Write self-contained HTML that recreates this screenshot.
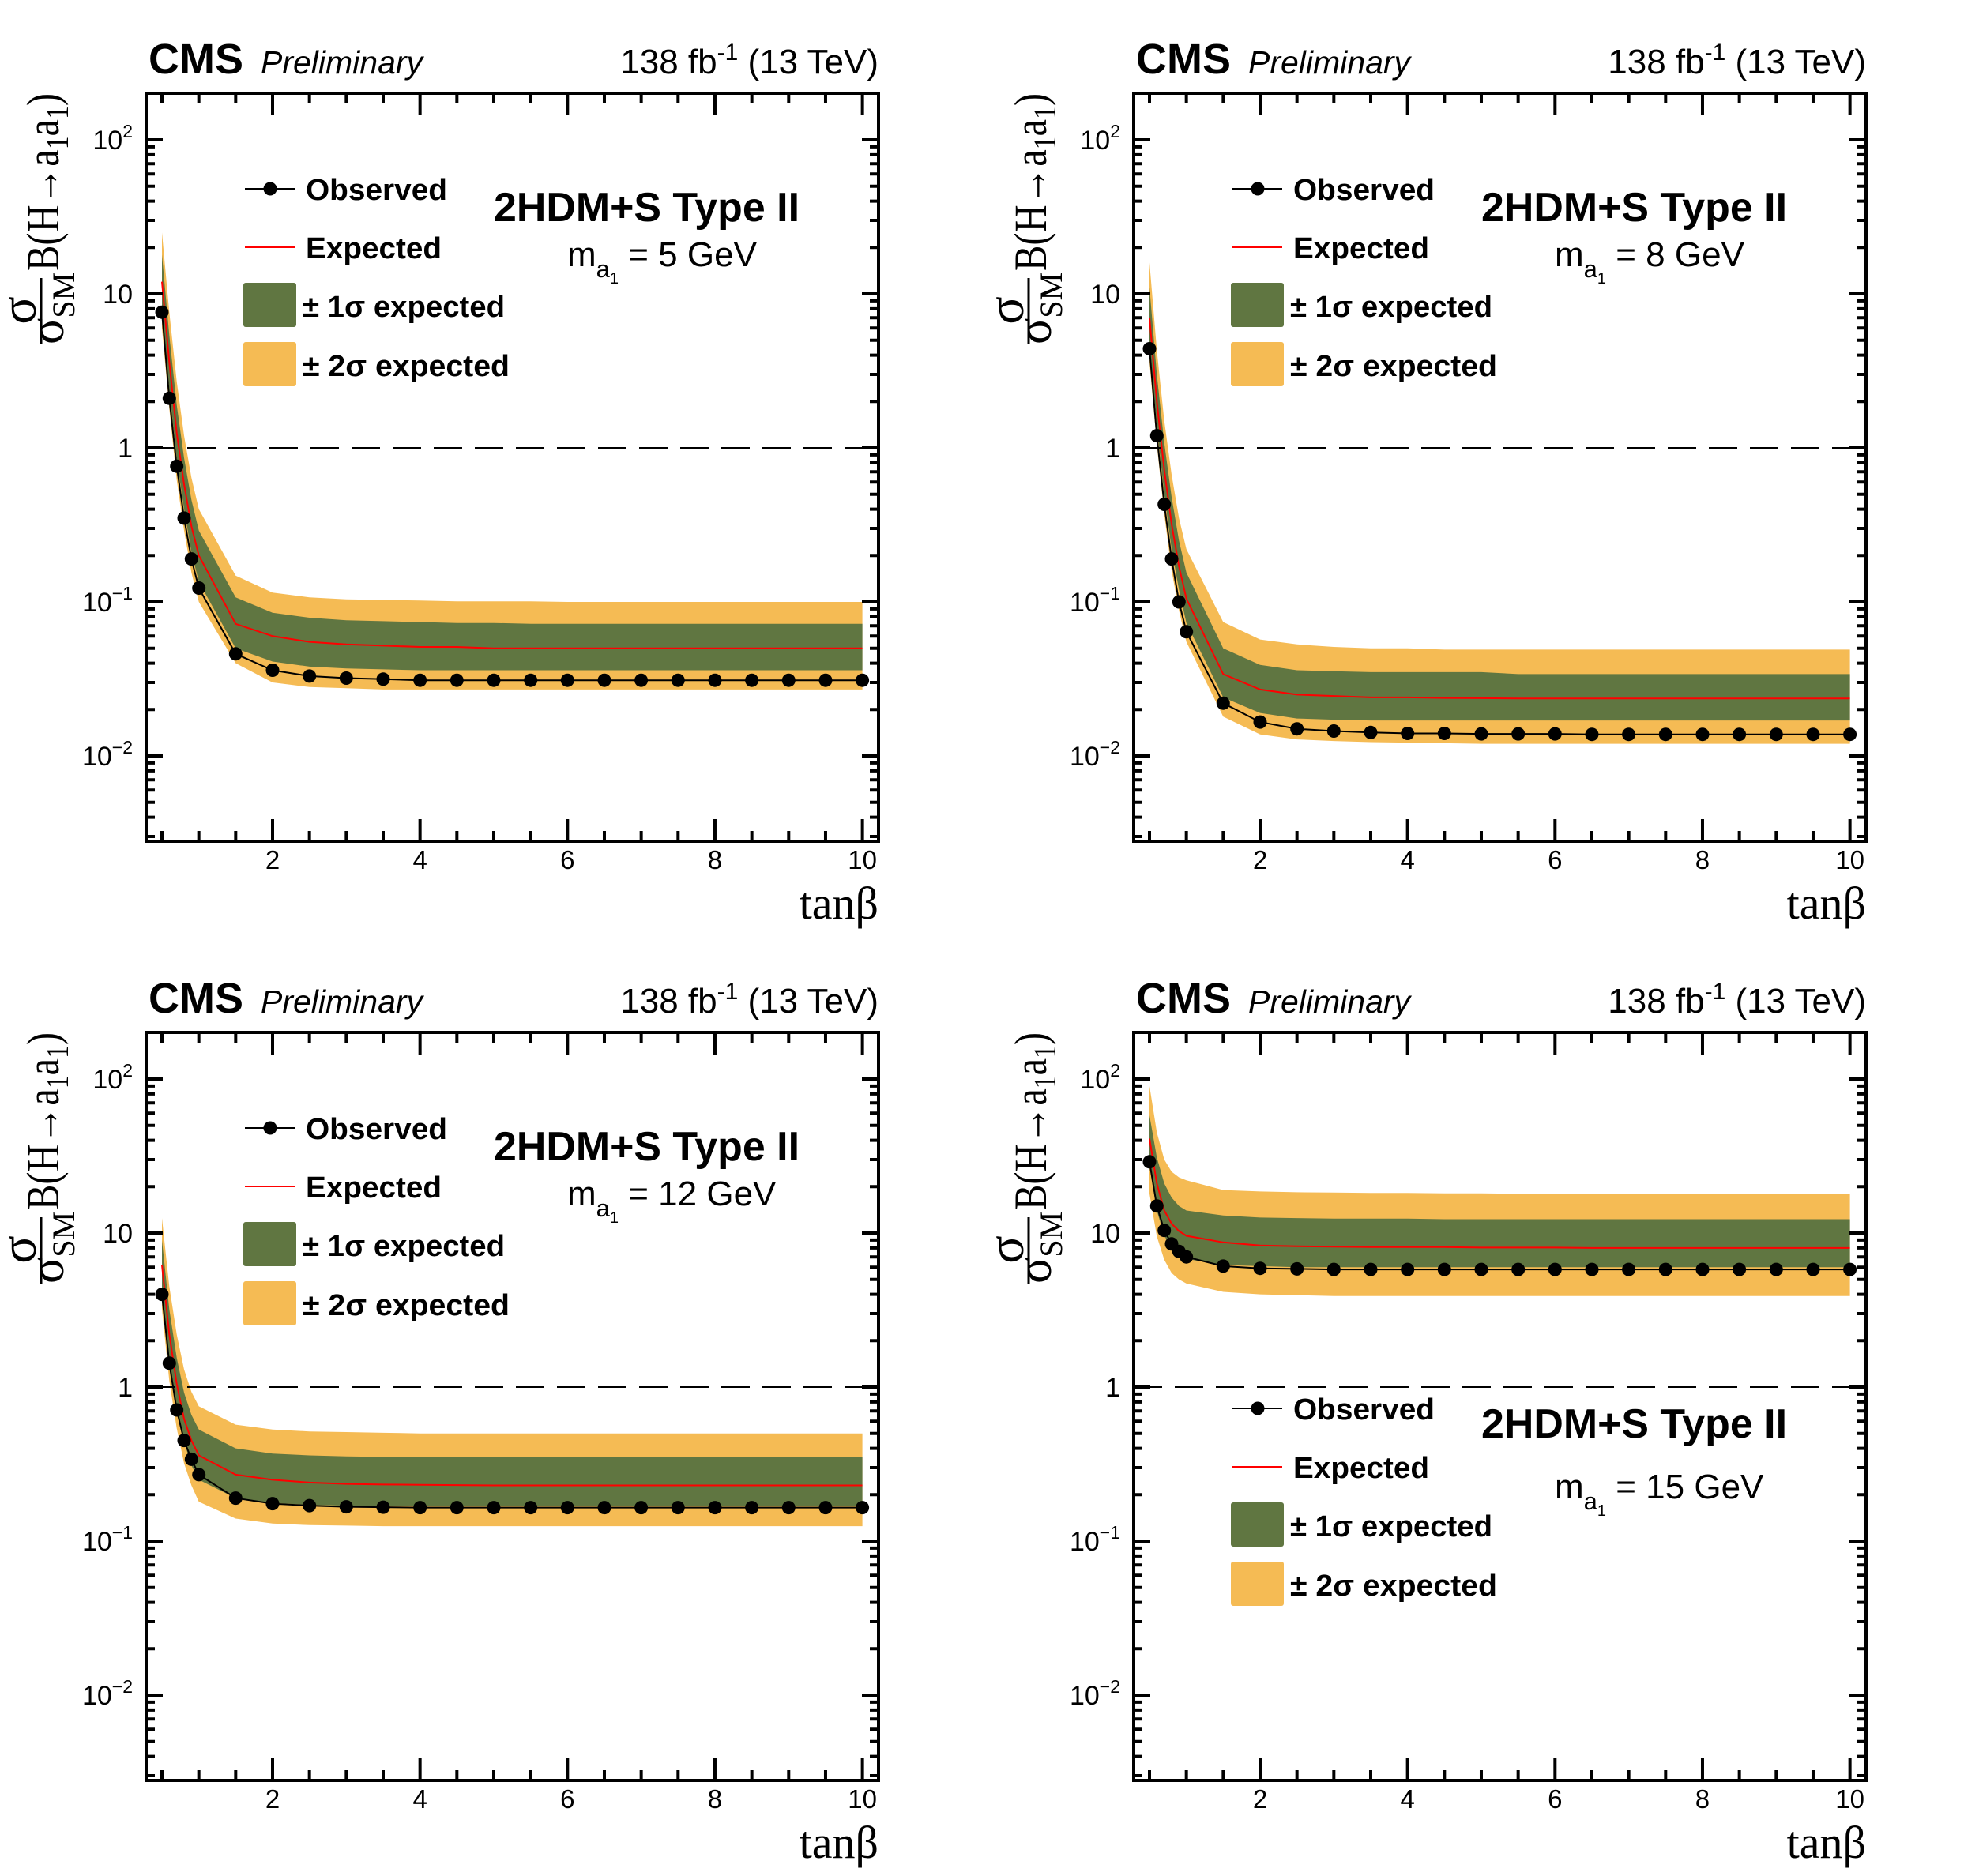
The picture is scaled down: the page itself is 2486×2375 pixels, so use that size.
<!DOCTYPE html>
<html><head><meta charset="utf-8"><style>
html,body{margin:0;padding:0;background:#fff}
svg{display:block}
text{font-family:"Liberation Sans",Arial,sans-serif}
.serif{font-family:"Liberation Serif","DejaVu Serif",serif}
</style></head><body>
<svg id="root" xmlns="http://www.w3.org/2000/svg" width="2486" height="2375" viewBox="0 0 2486 2375"></svg>
<script>
const xs = [0.5,0.6,0.7,0.8,0.9,1.0,1.5,2,2.5,3,3.5,4,4.5,5,5.5,6,6.5,7,7.5,8,8.5,9,9.5,10];
const xTicks = [2,4,6,8,10];
const yTickVals = [100,10,1,0.1,0.01];
const yTickBase = ["10","10","1","10","10"];
const yTickSup = ["2","","","\u22121","\u22122"];

const obs5 = [7.6,2.1,0.76,0.35,0.19,0.123,0.046,0.036,0.033,0.032,0.0315,0.031,0.031,0.031,0.031,0.031,0.031,0.031,0.031,0.031,0.031,0.031,0.031,0.031];
const exp5 = [12,3.6,1.25,0.58,0.31,0.20,0.072,0.060,0.055,0.053,0.052,0.051,0.051,0.050,0.050,0.050,0.050,0.050,0.050,0.050,0.050,0.050,0.050,0.050];
const up1_5 = [18,5.4,1.9,0.86,0.46,0.29,0.107,0.085,0.079,0.076,0.075,0.074,0.073,0.073,0.072,0.072,0.072,0.072,0.072,0.072,0.072,0.072,0.072,0.072];
const dn1_5 = [8.0,2.4,0.85,0.40,0.21,0.135,0.050,0.041,0.038,0.037,0.0365,0.036,0.036,0.036,0.036,0.036,0.036,0.036,0.036,0.036,0.036,0.036,0.036,0.036];
const up2_5 = [25,7.6,2.7,1.2,0.64,0.40,0.148,0.115,0.107,0.104,0.103,0.102,0.101,0.101,0.101,0.100,0.100,0.100,0.100,0.100,0.100,0.100,0.100,0.100];
const dn2_5 = [6.0,1.8,0.62,0.29,0.155,0.10,0.040,0.030,0.028,0.0275,0.027,0.027,0.027,0.027,0.027,0.027,0.027,0.027,0.027,0.027,0.027,0.027,0.027,0.027];

const obs8 = [4.4,1.2,0.43,0.19,0.10,0.064,0.022,0.0166,0.015,0.0145,0.0142,0.014,0.014,0.0139,0.0139,0.0139,0.0138,0.0138,0.0138,0.0138,0.0138,0.0138,0.0138,0.0138];
const exp8 = [7.0,2.0,0.72,0.32,0.17,0.105,0.034,0.027,0.025,0.0245,0.024,0.024,0.0238,0.0237,0.0236,0.0236,0.0236,0.0236,0.0236,0.0236,0.0236,0.0236,0.0236,0.0236];
const up1_8 = [11,3.0,1.08,0.48,0.25,0.155,0.050,0.039,0.036,0.0355,0.035,0.035,0.035,0.035,0.034,0.034,0.034,0.034,0.034,0.034,0.034,0.034,0.034,0.034];
const dn1_8 = [4.8,1.4,0.50,0.22,0.12,0.073,0.024,0.019,0.0175,0.0172,0.017,0.017,0.017,0.017,0.017,0.017,0.017,0.017,0.017,0.017,0.017,0.017,0.017,0.017];
const up2_8 = [16,4.3,1.5,0.67,0.35,0.22,0.074,0.057,0.053,0.051,0.050,0.050,0.049,0.049,0.049,0.049,0.049,0.049,0.049,0.049,0.049,0.049,0.049,0.049];
const dn2_8 = [3.6,1.05,0.37,0.16,0.088,0.055,0.018,0.0138,0.0128,0.0125,0.0123,0.0122,0.0121,0.012,0.012,0.012,0.012,0.012,0.012,0.012,0.012,0.012,0.012,0.012];

const obs12 = [4.0,1.43,0.71,0.45,0.34,0.27,0.19,0.175,0.17,0.167,0.166,0.165,0.165,0.165,0.165,0.165,0.165,0.165,0.165,0.165,0.165,0.165,0.165,0.165];
const exp12 = [6.2,2.2,1.05,0.62,0.45,0.36,0.27,0.25,0.24,0.235,0.233,0.232,0.231,0.23,0.23,0.23,0.23,0.23,0.23,0.23,0.23,0.23,0.23,0.23];
const up1_12 = [9.0,3.2,1.55,0.92,0.66,0.53,0.40,0.37,0.36,0.355,0.352,0.35,0.35,0.35,0.35,0.35,0.35,0.35,0.35,0.35,0.35,0.35,0.35,0.35];
const dn1_12 = [4.3,1.5,0.73,0.44,0.31,0.25,0.19,0.177,0.172,0.17,0.169,0.168,0.168,0.168,0.168,0.168,0.168,0.168,0.168,0.168,0.168,0.168,0.168,0.168];
const up2_12 = [12.5,4.5,2.2,1.3,0.93,0.75,0.57,0.53,0.515,0.51,0.505,0.50,0.50,0.50,0.50,0.50,0.50,0.50,0.50,0.50,0.50,0.50,0.50,0.50];
const dn2_12 = [3.2,1.1,0.54,0.32,0.23,0.18,0.14,0.13,0.127,0.126,0.125,0.125,0.125,0.125,0.125,0.125,0.125,0.125,0.125,0.125,0.125,0.125,0.125,0.125];

const obs15 = [29,15,10.4,8.5,7.6,7.0,6.1,5.9,5.85,5.8,5.8,5.8,5.8,5.8,5.8,5.8,5.8,5.8,5.8,5.8,5.8,5.8,5.8,5.8];
const exp15 = [41,21,14,11.5,10.3,9.6,8.7,8.3,8.2,8.15,8.1,8.1,8.1,8.05,8.05,8.05,8.0,8.0,8.0,8.0,8.0,8.0,8.0,8.0];
const up1_15 = [58,31,21,17,15,14,13,12.6,12.5,12.4,12.4,12.4,12.3,12.3,12.3,12.3,12.3,12.3,12.3,12.3,12.3,12.3,12.3,12.3];
const dn1_15 = [27,14,9.6,8.0,7.2,6.8,6.2,6.1,6.0,6.0,6.0,6.0,6.0,6.0,6.0,6.0,6.0,6.0,6.0,6.0,6.0,6.0,6.0,6.0];
const up2_15 = [90,45,30,25,23,22,19,18.6,18.4,18.3,18.2,18.2,18.1,18.1,18,18,18,18,18,18,18,18,18,18];
const dn2_15 = [18,9.5,6.7,5.5,5.0,4.7,4.15,4.0,3.95,3.9,3.9,3.9,3.9,3.9,3.9,3.9,3.9,3.9,3.9,3.9,3.9,3.9,3.9,3.9];

const masses = ["5","8","12","15"];

const NS = "http://www.w3.org/2000/svg";
const root = document.getElementById('root');
function mk(tag, attrs, parent){
  const e = document.createElementNS(NS, tag);
  for (const k in attrs) e.setAttribute(k, attrs[k]);
  parent.appendChild(e);
  return e;
}
const L=185,T=118,R=1112,B=1065;
function xpx(v){ return 345 + (v-2)*93.33; }
function ypx(v){ return 567 - Math.log10(v)*195; }

function drawPanel(ox, oy, d, legendDy, idx){
  const g = mk('g', {transform:`translate(${ox},${oy})`}, root);
  
  

  const band = (up, dn, color, name) => {
    let pts = xs.map((x,i)=>`${xpx(x).toFixed(1)},${ypx(up[i]).toFixed(1)}`);
    for (let i=xs.length-1;i>=0;i--) pts.push(`${xpx(xs[i]).toFixed(1)},${ypx(dn[i]).toFixed(1)}`);
    const p = mk('polygon', {points: pts.join(' '), fill: color}, g);
    
    
  };
  band(d.up2, d.dn2, '#f5bb54', 'band-2sigma');
  band(d.up1, d.dn1, '#607641', 'band-1sigma');

  const dl = mk('line', {x1:L, x2:R, y1:ypx(1), y2:ypx(1), stroke:'#000', 'stroke-width':2, 'stroke-dasharray':'36,16'}, g);
  
  

  const ep = mk('polyline', {points: xs.map((x,i)=>`${xpx(x).toFixed(1)},${ypx(d.exp[i]).toFixed(1)}`).join(' '), fill:'none', stroke:'#ff0000', 'stroke-width':2}, g);
  
  

  const op = mk('polyline', {points: xs.map((x,i)=>`${xpx(x).toFixed(1)},${ypx(d.obs[i]).toFixed(1)}`).join(' '), fill:'none', stroke:'#000', 'stroke-width':2}, g);
  
  
  xs.forEach((x,i)=>{
    const c = mk('circle', {cx:xpx(x).toFixed(1), cy:ypx(d.obs[i]).toFixed(1), r:8.5, fill:'#000'}, g);
    
    
  });

  const fr = mk('rect', {x:L, y:T, width:R-L, height:B-T, fill:'none', stroke:'#000', 'stroke-width':4}, g);
  
  

  let tp = '';
  for (let k=1;k<=20;k++){ const v=k*0.5; const X=xpx(v); const len=(v%2===0)?28:13;
    tp += `M${X},${B}V${B-len}M${X},${T}V${T+len}`; }
  for (let e=-3;e<=2;e++){
    for (let m=1;m<=9;m++){ const v=m*Math.pow(10,e); const Y=ypx(v);
      if (Y<T+1||Y>B-1) continue; const len=(m===1)?21:11;
      tp += `M${L},${Y}H${L+len}M${R},${Y}H${R-len}`; }
  }
  const ticks = mk('path', {d:tp, stroke:'#000', 'stroke-width':4, fill:'none'}, g);
  
  

  xTicks.forEach(v=>{
    const t = mk('text', {x:xpx(v), y:1100, 'font-size':33, 'text-anchor':'middle'}, g);
    t.textContent = String(v);
    
    
  });
  yTickVals.forEach((v,i)=>{
    const t = mk('text', {x:168, y:ypx(v)+12, 'font-size':34, 'text-anchor':'end'}, g);
    
    
    const a = mk('tspan', {}, t); a.textContent = yTickBase[i];
    if (yTickSup[i]) { const s = mk('tspan', {dy:-15, 'font-size':23}, t); s.textContent = yTickSup[i]; }
  });

  const xt = mk('text', {x:R, y:1163, 'font-size':58, 'text-anchor':'end', class:'serif'}, g);
  xt.textContent = 'tan\u03b2';
  
  

  const yg = mk('g', {transform:'rotate(-90)', class:'serif'}, g);
  
  
  const num = mk('text', {x:-393, y:45, 'font-size':66, 'text-anchor':'middle', class:'serif'}, yg); num.textContent='\u03c3';
  mk('line', {x1:-436, x2:-352, y1:52, y2:52, stroke:'#000', 'stroke-width':3}, yg);
  const den = mk('text', {x:-436, y:80, 'font-size':62, class:'serif'}, yg);
  const d1 = mk('tspan', {}, den); d1.textContent='\u03c3';
  const d2 = mk('tspan', {dy:14, 'font-size':40}, den); d2.textContent='SM';
  const br = mk('text', {x:-343, y:74, 'font-size':58, class:'serif', textLength:225, lengthAdjust:'spacingAndGlyphs'}, yg);
  const b1 = mk('tspan', {}, br); b1.textContent='B(H\u2192a';
  const b2 = mk('tspan', {dy:12, 'font-size':40}, br); b2.textContent='1';
  const b3 = mk('tspan', {dy:-12}, br); b3.textContent='a';
  const b4 = mk('tspan', {dy:12, 'font-size':40}, br); b4.textContent='1';
  const b5 = mk('tspan', {dy:-12}, br); b5.textContent=')';

  const cms = mk('text', {x:188, y:93, 'font-size':54, 'font-weight':'bold'}, g); cms.textContent='CMS';
   
  const pre = mk('text', {x:330, y:93, 'font-size':41, 'font-style':'italic'}, g); pre.textContent='Preliminary';
   
  const lumi = mk('text', {x:R, y:93, 'font-size':44, 'text-anchor':'end'}, g);
   
  const l1 = mk('tspan', {}, lumi); l1.textContent='138 fb';
  const l2 = mk('tspan', {dy:-17, 'font-size':30}, lumi); l2.textContent='-1';
  const l3 = mk('tspan', {dy:17}, lumi); l3.textContent=' (13 TeV)';

  const lg = mk('g', {transform:`translate(0,${legendDy})`}, g);
  
  
  mk('line', {x1:310, x2:373, y1:239, y2:239, stroke:'#000', 'stroke-width':2}, lg);
  mk('circle', {cx:342, cy:239, r:8.5, fill:'#000'}, lg);
  const t1 = mk('text', {x:387, y:253, 'font-size':38, 'font-weight':'bold', textLength:179, lengthAdjust:'spacingAndGlyphs'}, lg); t1.textContent='Observed';
   
  mk('line', {x1:310, x2:373, y1:313, y2:313, stroke:'#ff0000', 'stroke-width':2}, lg);
  const t2 = mk('text', {x:387, y:327, 'font-size':38, 'font-weight':'bold', textLength:172, lengthAdjust:'spacingAndGlyphs'}, lg); t2.textContent='Expected';
   
  mk('rect', {x:308, y:358, width:67, height:56, rx:3, fill:'#607641'}, lg);
  const t3 = mk('text', {x:383, y:401, 'font-size':38, 'font-weight':'bold', textLength:256, lengthAdjust:'spacingAndGlyphs'}, lg);
  t3.textContent='\u00b1 1\u03c3 expected';
   
  mk('rect', {x:308, y:433, width:67, height:56, rx:3, fill:'#f5bb54'}, lg);
  const t4 = mk('text', {x:383, y:476, 'font-size':38, 'font-weight':'bold', textLength:262, lengthAdjust:'spacingAndGlyphs'}, lg);
  t4.textContent='\u00b1 2\u03c3 expected';
   

  const mt = mk('text', {x:625, y:280+(legendDy?legendDy-4:0), 'font-size':52, 'font-weight':'bold', textLength:387, lengthAdjust:'spacingAndGlyphs'}, g);
  mt.textContent='2HDM+S Type II';
   
  const ma = mk('text', {x:718, y:337+(legendDy?legendDy+16:0), 'font-size':44}, g);
   
  const m1 = mk('tspan', {}, ma); m1.textContent='m';
  const m2 = mk('tspan', {dy:14, 'font-size':31}, ma); m2.textContent='a';
  const m3 = mk('tspan', {dy:8, 'font-size':20}, ma); m3.textContent='1';
  const m4 = mk('tspan', {dy:-22}, ma); m4.textContent=' = ' + masses[idx] + ' GeV';
}

drawPanel(0, 0, {obs:obs5, exp:exp5, up1:up1_5, dn1:dn1_5, up2:up2_5, dn2:dn2_5}, 0, 0);
drawPanel(1250, 0, {obs:obs8, exp:exp8, up1:up1_8, dn1:dn1_8, up2:up2_8, dn2:dn2_8}, 0, 1);
drawPanel(0, 1189, {obs:obs12, exp:exp12, up1:up1_12, dn1:dn1_12, up2:up2_12, dn2:dn2_12}, 0, 2);
drawPanel(1250, 1189, {obs:obs15, exp:exp15, up1:up1_15, dn1:dn1_15, up2:up2_15, dn2:dn2_15}, 355, 3);
</script>
</body></html>
